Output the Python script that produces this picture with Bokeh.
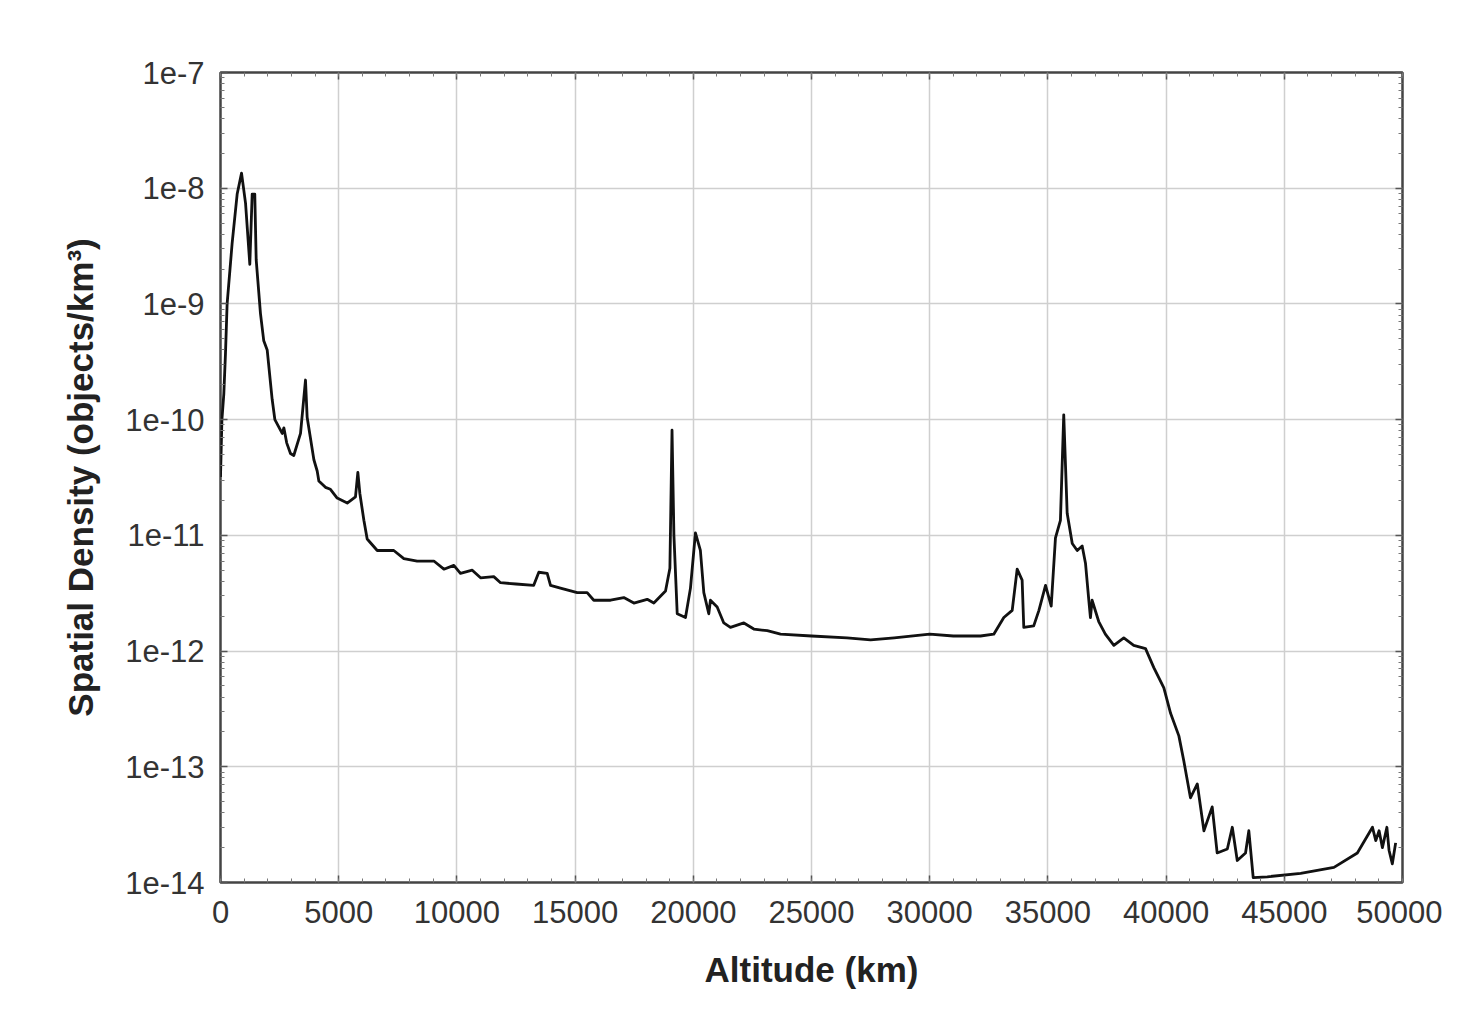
from bokeh.plotting import figure
from bokeh.models import (LinearAxis, LogAxis, FixedTicker, CustomJSTickFormatter,
                          Range1d)
from bokeh.embed import file_html
from bokeh.resources import INLINE

# Altitude (km)
altitude = [0, 60, 140, 210, 280, 490, 705, 890, 1060, 1240, 1340, 1450, 1510, 1690,
            1830, 1975, 2185, 2300, 2610, 2680, 2800, 2960, 3100, 3385, 3595, 3665,
            3950, 4090, 4160, 4440, 4650, 4935, 5360, 5710, 5810, 5895, 6065, 6205,
            6630, 7330, 7755, 8320, 9025, 9450, 9870, 10150, 10650, 11000, 11560,
            11845, 12500, 13250, 13465, 13820, 13960, 14380, 15090, 15510, 15790,
            16500, 17060, 17485, 18050, 18330, 18825, 19010, 19100, 19180, 19320,
            19670, 19880, 20090, 20300, 20445, 20655, 20725, 21010, 21290, 21570,
            22140, 22560, 23130, 23690, 25000, 26500, 27500, 28500, 30000, 31000,
            32150, 32710, 33135, 33490, 33700, 33910, 33980, 34400, 34620, 34900,
            35140, 35320, 35530, 35670, 35815, 36030, 36240, 36450, 36590, 36730,
            36800, 36870, 37150, 37430, 37790, 38210, 38630, 39130, 39480, 39905,
            40190, 40540, 40750, 41030, 41320, 41600, 41950, 42160, 42590, 42800,
            43010, 43360, 43500, 43685, 44280, 45690, 47100, 48090, 48730, 48870,
            49010, 49150, 49340, 49430, 49570, 49710]

# Spatial density (objects/km^3)
density = [3.2e-11, 1.0e-10, 1.66e-10, 3.7e-10, 1.0e-9, 3.3e-9, 8.9e-9, 1.35e-8,
           7.4e-9, 2.2e-9, 8.9e-9, 8.9e-9, 2.4e-9, 8.3e-10, 4.8e-10, 4.0e-10,
           1.5e-10, 1.0e-10, 7.6e-11, 8.5e-11, 6.3e-11, 5.1e-11, 4.9e-11, 7.6e-11,
           2.2e-10, 1.05e-10, 4.5e-11, 3.6e-11, 2.95e-11, 2.6e-11, 2.5e-11, 2.1e-11,
           1.9e-11, 2.15e-11, 3.5e-11, 2.3e-11, 1.35e-11, 9.3e-12, 7.4e-12, 7.4e-12,
           6.3e-12, 6.0e-12, 6.0e-12, 5.1e-12, 5.5e-12, 4.7e-12, 5.0e-12, 4.3e-12,
           4.4e-12, 3.9e-12, 3.8e-12, 3.7e-12, 4.8e-12, 4.7e-12, 3.7e-12, 3.5e-12,
           3.2e-12, 3.2e-12, 2.75e-12, 2.75e-12, 2.9e-12, 2.6e-12, 2.8e-12, 2.6e-12,
           3.3e-12, 5.2e-12, 8.1e-11, 1.0e-11, 2.1e-12, 1.95e-12, 3.5e-12, 1.05e-11,
           7.4e-12, 3.2e-12, 2.1e-12, 2.75e-12, 2.4e-12, 1.75e-12, 1.6e-12, 1.75e-12,
           1.55e-12, 1.5e-12, 1.4e-12, 1.35e-12, 1.3e-12, 1.25e-12, 1.3e-12, 1.4e-12,
           1.35e-12, 1.35e-12, 1.4e-12, 1.95e-12, 2.25e-12, 5.1e-12, 4.1e-12, 1.6e-12,
           1.65e-12, 2.25e-12, 3.7e-12, 2.45e-12, 9.5e-12, 1.35e-11, 1.1e-10, 1.55e-11,
           8.5e-12, 7.4e-12, 8.1e-12, 5.75e-12, 2.75e-12, 1.95e-12, 2.75e-12, 1.8e-12,
           1.4e-12, 1.12e-12, 1.3e-12, 1.12e-12, 1.05e-12, 7.2e-13, 4.8e-13, 2.9e-13,
           1.85e-13, 1.12e-13, 5.4e-14, 7.1e-14, 2.8e-14, 4.5e-14, 1.8e-14, 1.95e-14,
           3.0e-14, 1.55e-14, 1.8e-14, 2.8e-14, 1.1e-14, 1.12e-14, 1.2e-14, 1.35e-14,
           1.8e-14, 3.0e-14, 2.3e-14, 2.8e-14, 2.0e-14, 3.0e-14, 1.9e-14, 1.45e-14,
           2.2e-14]

x_ticks = [0, 5000, 10000, 15000, 20000, 25000, 30000, 35000, 40000, 45000, 50000]
y_ticks = [1e-14, 1e-13, 1e-12, 1e-11, 1e-10, 1e-9, 1e-8, 1e-7]
x_minor = list(range(0, 50001, 1000))
y_minor = [m * 10.0 ** e for e in range(-14, -7) for m in range(2, 10)]

FONT = "Liberation Sans"

p = figure(frame_width=1182, frame_height=810, y_axis_type="log",
           x_range=Range1d(0, 50000), y_range=Range1d(1e-14, 1e-7),
           output_backend="svg", toolbar_location=None,
           min_border_left=220, min_border_top=72, min_border_right=40,
           min_border_bottom=40, background_fill_color="white",
           border_fill_color="white")

p.line(altitude, density, line_color="#111111", line_width=2.8,
       line_join="round")

bottom = p.xaxis[0]
left = p.yaxis[0]

bottom.ticker = FixedTicker(ticks=x_ticks, minor_ticks=x_minor)
left.ticker = FixedTicker(ticks=y_ticks, minor_ticks=y_minor)
left.formatter = CustomJSTickFormatter(code="return '1e-' + Math.round(-Math.log10(tick));")

# mirrored axes (ticks only)
top = LinearAxis(ticker=FixedTicker(ticks=x_ticks, minor_ticks=x_minor),
                 major_label_text_color=None, major_label_text_font_size="1px",
                 major_label_standoff=0)
right = LogAxis(ticker=FixedTicker(ticks=y_ticks, minor_ticks=y_minor),
                major_label_text_color=None, major_label_text_font_size="1px",
                major_label_standoff=0)
p.add_layout(top, "above")
p.add_layout(right, "right")

for ax in [bottom, left, top, right]:
    ax.axis_line_color = None
    ax.major_tick_in = 7
    ax.major_tick_out = 0
    ax.minor_tick_in = 4
    ax.minor_tick_out = 0
    ax.major_tick_line_color = "#555555"
    ax.minor_tick_line_color = "#777777"
    ax.major_tick_line_width = 1.5

for ax in [bottom, left]:
    ax.major_label_text_font = FONT
    ax.major_label_text_font_size = "31px"
    ax.major_label_text_color = "#333333"
    ax.axis_label_text_font = FONT
    ax.axis_label_text_font_style = "bold"
    ax.axis_label_text_font_size = "35px"
    ax.axis_label_text_color = "#222222"

bottom.axis_label = "Altitude (km)"
left.axis_label = "Spatial Density (objects/km³)"
bottom.major_label_standoff = 18
left.major_label_standoff = 16
bottom.axis_label_standoff = 24
left.axis_label_standoff = 22

p.xgrid.ticker = FixedTicker(ticks=x_ticks)
p.ygrid.ticker = FixedTicker(ticks=y_ticks)
p.grid.grid_line_color = "#cfcfcf"
p.grid.grid_line_width = 1.5

p.outline_line_color = "#444444"
p.outline_line_width = 2.5
p.outline_line_alpha = 1.0

open("out.html", "w").write(file_html(p, INLINE))
